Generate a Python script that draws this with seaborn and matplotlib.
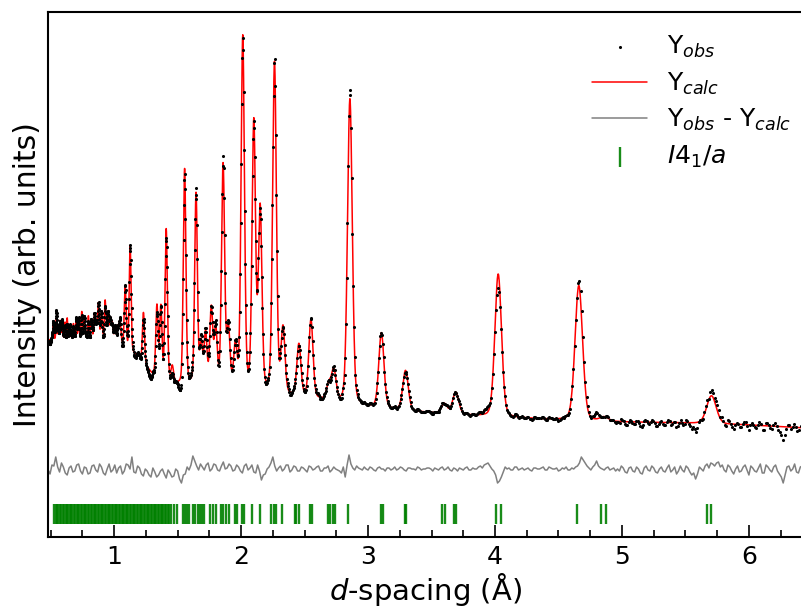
import numpy as np
import pandas as pd
import seaborn as sns
import matplotlib.pyplot as plt

# Background of the refined pattern (d in Angstrom, intensity in arb. units)
bg_d = [0.48, 0.70, 1.00, 1.20, 1.30, 1.50, 1.70, 1.90, 2.10, 2.30, 2.50,
        2.70, 3.00, 3.30, 3.60, 4.00, 4.50, 5.00, 5.50, 6.00, 6.45]
bg_int = [197, 199, 197, 179, 162, 152, 152, 150, 147, 142, 139,
          136, 130, 126, 123, 120, 117, 115, 114, 112, 109]

# Refined peaks: position (A), height above background, FWHM (A)
peak_d = [0.520, 0.545, 0.560, 0.574, 0.590, 0.613, 0.630, 0.650, 0.679, 0.700,
          0.720, 0.745, 0.765, 0.797, 0.820, 0.845, 0.860, 0.876, 0.900, 0.929,
          0.950, 0.970, 0.985, 1.010, 1.030, 1.047, 1.087, 1.126, 1.231, 1.337,
          1.368, 1.410, 1.458, 1.555, 1.645, 1.685, 1.720, 1.765, 1.800, 1.858,
          1.900, 1.955, 2.013, 2.100, 2.150, 2.263, 2.330, 2.455, 2.550, 2.690,
          2.730, 2.857, 3.105, 3.295, 3.600, 3.690, 4.025, 4.660, 4.860, 5.705]
peak_h = [15, 20, 12, 18, 14, 16, 20, 12, 14, 18,
          15, 26, 20, 22, 18, 22, 15, 35, 25, 38,
          25, 20, 15, 12, 15, 22, 60, 105, 50, 70,
          70, 150, 15, 215, 190, 40, 50, 75, 55, 220,
          55, 40, 350, 265, 180, 330, 65, 52, 78, 15,
          30, 305, 75, 40, 10, 22, 143, 135, 4, 28]
peak_w = [0.009, 0.009, 0.009, 0.010, 0.010, 0.010, 0.010, 0.011, 0.011, 0.011,
          0.011, 0.012, 0.012, 0.012, 0.013, 0.013, 0.013, 0.014, 0.014, 0.014,
          0.015, 0.015, 0.015, 0.016, 0.016, 0.016, 0.017, 0.017, 0.019, 0.021,
          0.021, 0.022, 0.023, 0.024, 0.025, 0.026, 0.027, 0.027, 0.028, 0.029,
          0.029, 0.030, 0.031, 0.032, 0.033, 0.035, 0.036, 0.038, 0.039, 0.041,
          0.042, 0.044, 0.048, 0.051, 0.055, 0.057, 0.062, 0.070, 0.075, 0.088]

# Difference curve Yobs - Ycalc: values every 0.03 A from 0.48 A,
# and the values half-way between them (0.495 A, 0.525 A, ...)
diff_vals = [-1, 4, 12, -3, 2, -6, 3, -2, 5, -5, 1, -4, 4, -3, 2, -6, 5, -1, -4, 3,
             -2, 4, 12, -4, 1, -7, -2, -8, -3, -6, 0, -9, -4, -7, -2, -14, -5, -1, 13, 3,
             5, -1, 6, 0, 4, -2, 7, 1, 3, -1,
             2, -4, 5, 1, -3, 4, -11, -5, 2, 12, -2, 3, 0, 4, -1, 2, -2, 1, -3, 2,
             0, 3, -2, 1, -3, 2, -1, -4, -8, 14, 1, 3, 0, 2, -1, 1, -2, 2, 0, 1,
             -1, 2, 0, 1, -2, 1, 0, 2, -1, 0,
             1, -2, 0, 1, -1, 2, -2, 0, 1, -1, 2, -1, 0, 2, 1, 5, 3, -2, -14, -8,
             2, 1, -1, 2, 0, -1, 1, -2, 1, 0, 2, -1, 1, 0, -2, 1, 2, -1, 0, 3,
             12, 6, 1, 2, 8, 1, -1, 2, 0, -2,
             -2, 1, -4, 2, -3, 0, -5, 3, -2, 1, -4, 2, -3, 4, -1, -5, 3, -3, 1, -6,
             -10, 2, -2, 5, 6, 3, 7, 4, -3, 2, -5, 3, -2, 4, -6, 1, -3, 5, -4, 2,
             -3, 4, -5, -14, 2, -2, 5, -4, 3]
diff_mid = [-5, 3, 2, 6, -4, 1, -3, 4, -2, 2, -5, 3, -1, 5, -4, 0, -3, 4, 1, -5,
            5, 0, -3, 3, -5, 0, -6, 1, -8, -2, -5, -1, -8, 0, -10, -6, 2, 4, 8, -1,
            2, 4, -2, 5, -1, 3, 0, 5, -2, 4,
            -2, 3, -1, 4, -4, -2, -6, 0, 6, 3, 1, -2, 4, -3, 3, -2, 2, -1, 3, -1,
            2, -2, 1, 3, -1, 0, -2, 2, 4, 5, -1, 1, -1, 0, 2, -1, 1, 0, -2, 1,
            0, -1, 2, -1, 1, 0, -1, 1, 0, 1,
            0, 1, -1, 2, 0, -1, 1, -2, 0, 1, -1, 1, 0, 3, 4, 6, 0, -6, -12, -3,
            0, -1, 2, -1, 1, 0, -1, 1, 0, 1, -1, 2, 0, 1, -1, 0, -1, 1, 2, 6,
            9, 3, -1, 4, 3, 0, 1, -1, 1, 0,
            3, -3, 1, -2, 2, -4, 1, -1, 3, -3, 0, -2, 1, -3, 2, -2, -1, 3, -3, -4,
            -5, 0, 3, 1, 5, 6, 2, -1, 4, -2, 0, -3, 2, -1, 3, -2, 1, -4, 4, -1,
            2, -2, -8, -6, 3, 0, -3, 2]
diff_offset = 68

# I4_1/a reflection positions (A)
refl_d = [0.530, 0.540, 0.552, 0.561, 0.573, 0.584, 0.594, 0.606, 0.617, 0.628,
          0.638, 0.650, 0.661, 0.671, 0.683, 0.694, 0.705, 0.716, 0.727, 0.738,
          0.749, 0.761, 0.771, 0.782, 0.794, 0.805, 0.815, 0.827, 0.838, 0.849,
          0.859, 0.871, 0.882, 0.893, 0.904, 0.915, 0.926, 0.937, 0.948, 0.959,
          0.970, 0.981, 0.992, 1.003, 1.014, 1.025, 1.036, 1.047, 1.058, 1.069,
          1.080, 1.091, 1.102, 1.113, 1.124, 1.135, 1.146, 1.157, 1.168, 1.179,
          1.190, 1.201, 1.212, 1.223, 1.234, 1.245, 1.256, 1.267, 1.278, 1.289,
          1.300, 1.311, 1.322, 1.333, 1.344, 1.355, 1.366, 1.377, 1.388, 1.399,
          1.410, 1.421, 1.430, 1.447, 1.468, 1.495, 1.542, 1.560, 1.574, 1.592,
          1.618, 1.639, 1.658, 1.673, 1.692, 1.705, 1.758, 1.776, 1.805, 1.842,
          1.858, 1.879, 1.908, 1.952, 1.968, 2.005, 2.026, 2.089, 2.152, 2.239,
          2.257, 2.273, 2.323, 2.423, 2.436, 2.455, 2.539, 2.560, 2.684, 2.700,
          2.726, 2.736, 2.842, 3.100, 3.115, 3.289, 3.302, 3.586, 3.605, 3.679,
          3.692, 4.008, 4.047, 4.644, 4.837, 4.876, 5.670, 5.705]
refl_level = 23


def calc_profile(d):
    # background plus pseudo-Voigt peaks
    y = np.interp(d, bg_d, bg_int)
    for p, h, w in zip(peak_d, peak_h, peak_w):
        x = (d - p) / w
        gauss = np.exp(-4 * np.log(2) * x ** 2)
        lorentz = 1 / (1 + 4 * x ** 2)
        y = y + h * (0.8 * gauss + 0.2 * lorentz)
    return y


# merge the two halves of the difference curve
diff_d = np.linspace(0.48, 6.42, 397)
resid = np.empty(397)
resid[0::2] = diff_vals
resid[1::2] = diff_mid

calc_d = np.geomspace(0.475, 6.43, 5000)
calc = pd.DataFrame({"d": calc_d, "I": calc_profile(calc_d)})

obs_d = np.geomspace(0.48, 6.42, 1300)
obs = pd.DataFrame({"d": obs_d,
                    "I": calc_profile(obs_d) + np.interp(obs_d, diff_d, resid)})
diff = pd.DataFrame({"d": diff_d, "I": diff_offset + resid})
refl = pd.DataFrame({"d": refl_d, "I": refl_level})

sns.set_style("ticks")
plt.rcParams["font.family"] = ["DejaVu Sans"]
plt.rcParams["mathtext.fontset"] = "dejavusans"
plt.rcParams["text.color"] = "black"
plt.rcParams["axes.labelcolor"] = "black"
plt.rcParams["axes.edgecolor"] = "black"
plt.rcParams["xtick.color"] = "black"

fig = plt.figure(figsize=(8.01, 6.08), dpi=100)
ax = fig.add_axes([47.5 / 801, 71 / 608, 755.5 / 801, 525 / 608])

sns.scatterplot(data=obs, x="d", y="I", ax=ax, color="black", s=5,
                linewidth=0, zorder=3, label="Y$_{obs}$")
sns.lineplot(data=calc, x="d", y="I", ax=ax, color="red", lw=1.1,
             sort=False, estimator=None, label="Y$_{calc}$")
sns.lineplot(data=diff, x="d", y="I", ax=ax, color="grey", lw=1.1,
             sort=False, estimator=None, label="Y$_{obs}$ - Y$_{calc}$")
sns.scatterplot(data=refl, x="d", y="I", ax=ax, color="green", marker="|",
                s=200, linewidth=1.7, alpha=0.9, label="$I4_1/a$")

ax.set_xlim(0.475, 6.426)
ax.set_ylim(0, 525)
ax.set_yticks([])
ax.set_xticks([1, 2, 3, 4, 5, 6])
ax.set_xticks(np.arange(0.5, 6.5, 0.25), minor=True)
ax.tick_params(axis="x", which="major", direction="in", length=9, width=1.2,
               labelsize=18, pad=6)
ax.tick_params(axis="x", which="minor", direction="in", length=5, width=1.2)
for side in ["left", "bottom", "top", "right"]:
    ax.spines[side].set_linewidth(1.5)

ax.set_xlabel("$d$-spacing (Å)", fontsize=21, labelpad=1)
ax.set_ylabel("Intensity (arb. units)", fontsize=21.5, labelpad=4)

ax.legend(loc="upper right", bbox_to_anchor=(1.0, 0.98), frameon=False,
          fontsize=18, handlelength=2.2, handletextpad=0.8, labelspacing=0.42,
          borderaxespad=0.05)

plt.savefig("out.png", dpi=100)
